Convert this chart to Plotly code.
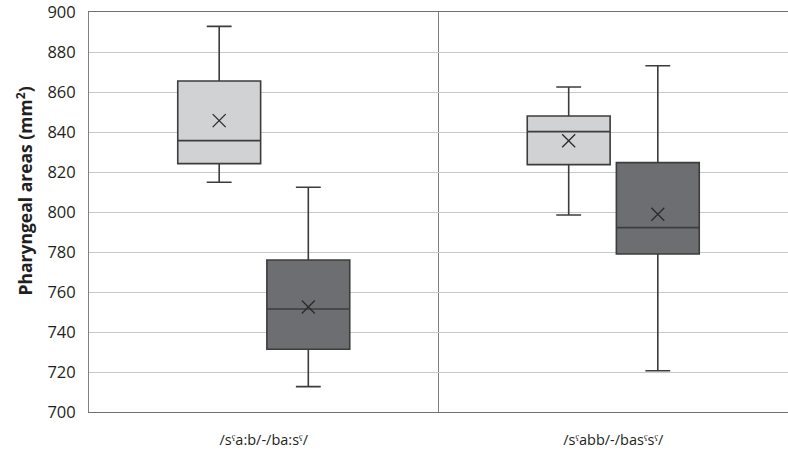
import plotly.graph_objects as go

categories = ["/sˤa:b/-/ba:sˤ/", "/sˤabb/-/basˤsˤ/"]

# series A (light grey)
a_low = [814.9, 798.5]
a_q1 = [824.2, 823.7]
a_median = [835.7, 840.2]
a_q3 = [865.5, 848.0]
a_high = [892.8, 862.5]
a_mean = [845.7, 835.6]

# series B (dark grey)
b_low = [712.7, 720.6]
b_q1 = [731.4, 779.0]
b_median = [751.5, 792.2]
b_q3 = [776.0, 824.7]
b_high = [812.4, 873.1]
b_mean = [752.5, 798.9]

y_ticks = [700, 720, 740, 760, 780, 800, 820, 840, 860, 880, 900]
y_title = "<b>Pharyngeal areas (mm<sup>2</sup>)</b>"

FONT = "Open Sans"
LINE = "#3c3c3c"
TEXT = "#231f20"

fig = go.Figure()

def add_box(name, low, q1, med, q3, high, fill):
    fig.add_trace(go.Box(
        x=categories, lowerfence=low, q1=q1, median=med, q3=q3, upperfence=high,
        name=name, fillcolor=fill, line=dict(color=LINE, width=1.6),
        whiskerwidth=0.3, boxpoints=False, offsetgroup=name,
        hoverinfo="skip", showlegend=False,
    ))

def add_mean(name, mean):
    fig.add_trace(go.Scatter(
        x=categories, y=mean, mode="markers", offsetgroup=name,
        marker=dict(symbol="x-thin-open", size=13, color="#2a2a2a",
                    line=dict(color="#2a2a2a", width=1.3)),
        hoverinfo="skip", showlegend=False,
    ))

add_box("A", a_low, a_q1, a_median, a_q3, a_high, "#d1d2d4")
add_box("B", b_low, b_q1, b_median, b_q3, b_high, "#6d6e71")
add_mean("A", a_mean)
add_mean("B", b_mean)

fig.update_layout(
    width=788, height=461,
    margin=dict(l=89, r=0, t=9.5, b=48.5),
    paper_bgcolor="white", plot_bgcolor="white",
    boxmode="group", boxgap=0.49, boxgroupgap=0.07,
    scattermode="group", scattergap=0.49,
    font=dict(family=FONT, color=TEXT),
)
fig.add_annotation(
    text=y_title, textangle=-90, showarrow=False,
    xref="paper", yref="paper", x=-0.092, y=0.553,
    xanchor="center", yanchor="middle",
    font=dict(size=17.5, family=FONT, color=TEXT),
)
fig.update_xaxes(
    type="category", range=[-0.5, 1.5],
    showline=True, linecolor="#707070", linewidth=1, mirror=True,
    showgrid=True, gridcolor="#808080", gridwidth=1, tickson="boundaries",
    ticks="", ticklabelstandoff=15,
    tickfont=dict(size=14.5, family=FONT, color=TEXT),
    zeroline=False,
)
fig.update_yaxes(
    range=[700, 900], tickvals=y_ticks, ticktext=[str(v) for v in y_ticks],
    showline=True, linecolor="#808080", linewidth=1,
    showgrid=True, gridcolor="#c8c8c8", gridwidth=1,
    ticks="", ticklabelstandoff=9, ticklabeloverflow="allow",
    tickfont=dict(size=16.5, family=FONT, color=TEXT),
    zeroline=False,
)

fig.write_html("out.html")
